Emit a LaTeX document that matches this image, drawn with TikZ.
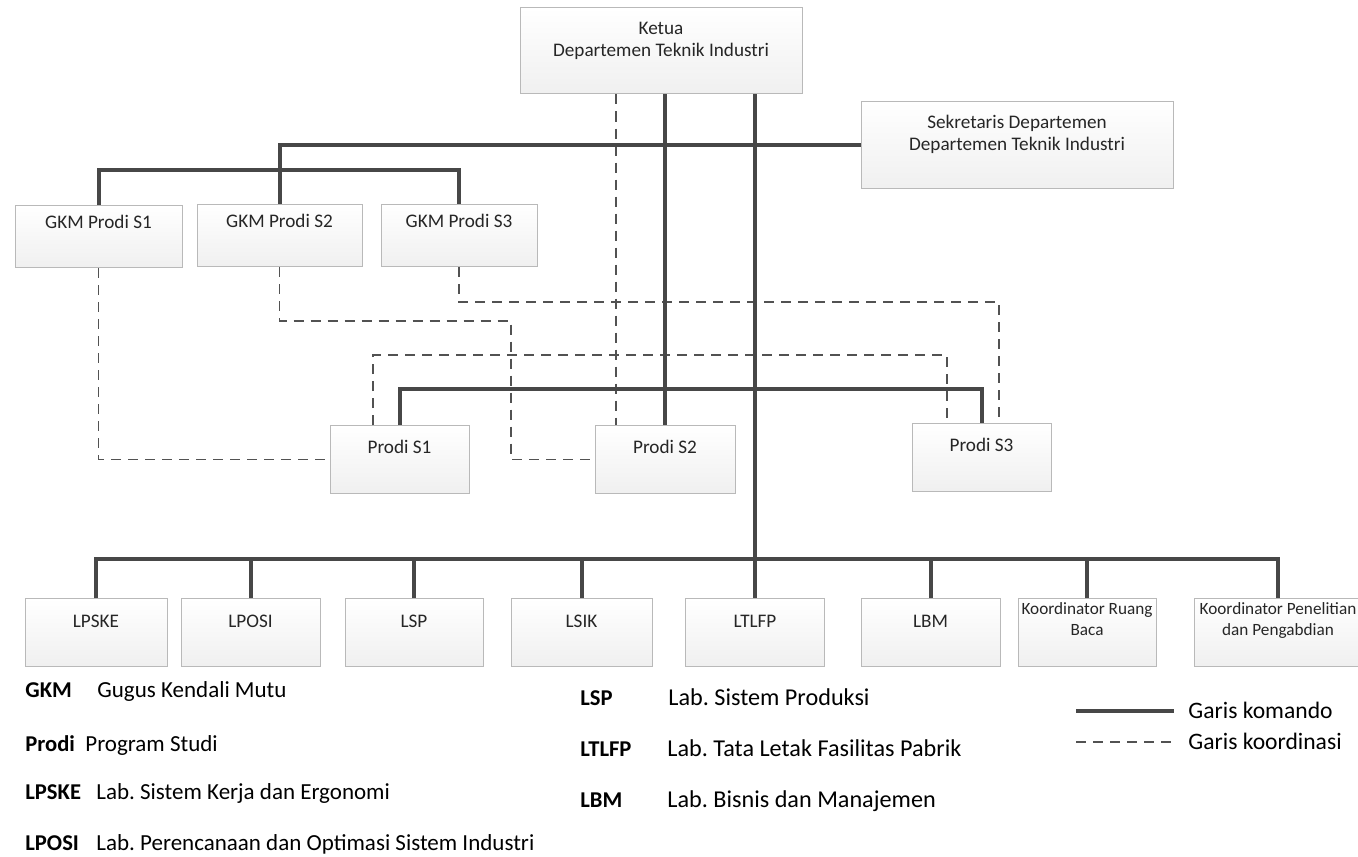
\documentclass[tikz,border=0pt]{standalone}
\usepackage{fontspec}
\setmainfont{Carlito}
\usepackage{tikz}
\frenchspacing

\tikzset{
  unit/.style={draw=gray!55, line width=0.5pt, top color=white, bottom color=gray!12,
    inner xsep=0pt, inner ysep=0pt, align=center, text=black!85, anchor=north,
    font=\fontsize{9.6}{11}\selectfont},
  headbox/.style={unit, minimum width=#1, text height=24.5pt, text depth=18.75pt},
  gkmbox/.style={unit, minimum width=#1, text height=11.5pt, text depth=19.5pt},
  prodibox/.style={unit, minimum width=#1, text height=14pt, text depth=20pt},
  labbox/.style={unit, minimum width=#1, text height=14.5pt, text depth=19.5pt},
  korbox/.style={unit, minimum width=#1, text height=18.5pt, text depth=15.5pt,
    font=\fontsize{8.6}{10.5}\selectfont},
  komando/.style={draw=black!72, line width=2pt},
  koordinasi/.style={draw=black!68, line width=0.8pt, dash pattern=on 5pt off 3.5pt},
  abbr/.style={anchor=base west, inner sep=0pt, font=\fontsize{11.3}{13}\selectfont\bfseries},
  desc/.style={anchor=base west, inner sep=0pt, font=\fontsize{#1}{13}\selectfont},
  desc/.default=11.5
}

\begin{document}
\begin{tikzpicture}[x=0.5pt,y=-0.5pt]
  \useasboundingbox (0,0) rectangle (1358,856);

  \node[headbox=141pt] (ketua) at (661,7) {Ketua\\Departemen Teknik Industri};
  \node[headbox=156pt] (sek) at (1017,101) {Sekretaris Departemen\\Departemen Teknik Industri};

  \node[gkmbox=83.5pt] (gkm1) at (98.5,205) {GKM Prodi S1};
  \node[gkmbox=82.5pt] (gkm2) at (279.5,204) {GKM Prodi S2};
  \node[gkmbox=78pt] (gkm3) at (459,204) {GKM Prodi S3};

  \node[prodibox=69.5pt] (ps1) at (399.5,425) {Prodi S1};
  \node[prodibox=70pt] (ps2) at (665,425) {Prodi S2};
  \node[prodibox=69.5pt] (ps3) at (981.5,423) {Prodi S3};

  \foreach \n/\x/\w/\t in {lpske/96/71/LPSKE, lposi/250.5/69.5/LPOSI, lsp/414/69/LSP,
      lsik/581.5/70.5/LSIK, ltlfp/755/69.5/LTLFP, lbm/930.5/69.5/LBM}
    \node[labbox=\w pt] (\n) at (\x,598) {\t};
  \node[korbox=69pt] (krb) at (1087,598) {Koordinator Ruang\\Baca};
  \node[korbox=84pt] (kpp) at (1278,598) {Koordinator Penelitian\\dan Pengabdian};

  \coordinate (gkmbus) at (279.5,170);
  \coordinate (prodibus) at (665,389);
  \coordinate (labbus) at (755,559);
  \coordinate (k2) at (511,321);
  \coordinate (k3) at (999,302);
  \coordinate (k4a) at (373,355);
  \coordinate (k4b) at (947,355);
  \coordinate (k5) at (616,200);

  \draw[koordinasi] (gkm1.south) |- (ps1.west);
  \draw[koordinasi] (gkm2.south) |- (k2) |- (ps2.west);
  \draw[koordinasi] (gkm3.south) |- (k3) -- (k3 |- ps3.north);
  \draw[koordinasi] (ps1.north -| k4a) -- (k4a) -- (k4b) -- (k4b |- ps3.north);
  \draw[koordinasi] (ketua.south -| k5) -- (ps2.north -| k5);

  \draw[komando] (sek.west) -| (gkm2.north);
  \draw[komando] (gkm1.north) |- (gkmbus) -| (gkm3.north);
  \draw[komando] (ketua.south -| prodibus) -- (ps2.north);
  \draw[komando] (ps1.north) |- (prodibus) -| (ps3.north);
  \draw[komando] (ketua.south -| labbus) -- (ltlfp.north);
  \draw[komando] (lpske.north) |- (labbus) -| (kpp.north);
  \foreach \n in {lposi,lsp,lsik,lbm,krb}
    \draw[komando] (\n.north) -- (\n.north |- labbus);

  \node[abbr] (a1) at (25,697) {GKM};
  \node[desc] (d1) at (97,697) {Gugus Kendali Mutu};
  \node[abbr] (a2) at (25,751) {Prodi};
  \node[desc] (d2) at (85,751) {Program Studi};
  \node[abbr] (a3) at (25,799) {LPSKE};
  \node[desc] (d3) at (96,799) {Lab. Sistem Kerja dan Ergonomi};
  \node[abbr] (a4) at (25,850) {LPOSI};
  \node[desc] (d4) at (96,850) {Lab. Perencanaan dan Optimasi Sistem Industri};
  \node[abbr] (a5) at (580,705) {LSP};
  \node[desc=12.1] (d5) at (668,705) {Lab. Sistem Produksi};
  \node[abbr] (a6) at (580,756) {LTLFP};
  \node[desc=12.1] (d6) at (667,756) {Lab. Tata Letak Fasilitas Pabrik};
  \node[abbr] (a7) at (580,807) {LBM};
  \node[desc=12.1] (d7) at (667,807) {Lab. Bisnis dan Manajemen};

  \node[desc=11.8] (kom) at (1188,718) {Garis komando};
  \node[desc=11.8] (kor) at (1188,749) {Garis koordinasi};
  \coordinate (legkom) at (1076,711);
  \coordinate (legkor) at (1076,742);
  \draw[komando] (legkom) -- ++(98,0);
  \draw[koordinasi] (legkor) -- ++(98,0);
\end{tikzpicture}
\end{document}
